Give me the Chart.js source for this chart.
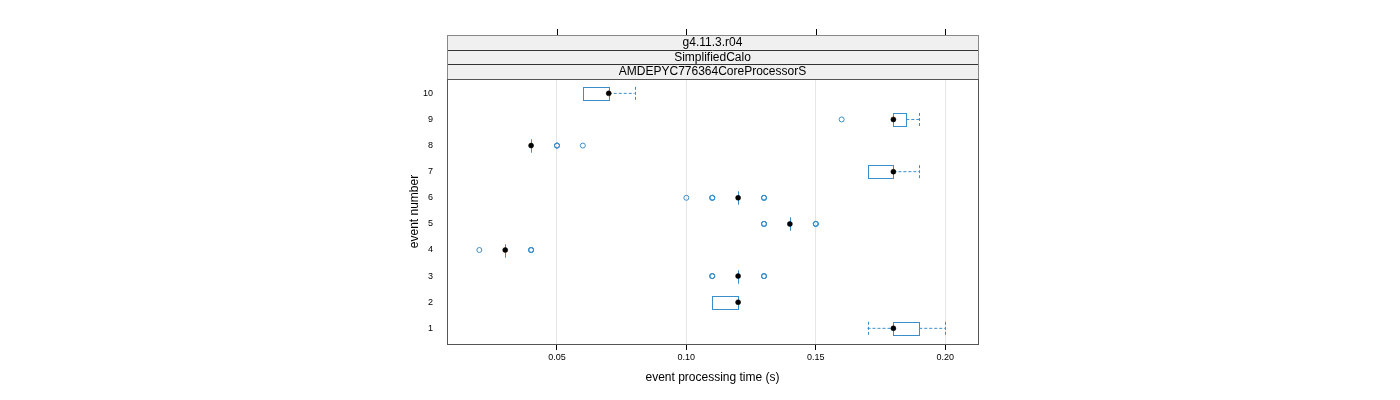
<!DOCTYPE html>
<html>
<head>
<meta charset="utf-8">
<script src="https://cdn.jsdelivr.net/npm/chart.js@4"></script>
<style>
  body { margin: 0; background: #fff; }
  canvas { display: block; }
</style>
</head>
<body>
<canvas id="bw" width="1400" height="400"></canvas>
<script>
// event numbers (y categories) and x tick values
const events = [1, 2, 3, 4, 5, 6, 7, 8, 9, 10];
const xTicks = [0.05, 0.10, 0.15, 0.20];
const strips = ["g4.11.3.r04", "SimplifiedCalo", "AMDEPYC776364CoreProcessorS"];

// box-and-whisker stats per event (seconds)
const lowWhisker = [0.17, 0.11, 0.12, 0.03, 0.14, 0.12, 0.17, 0.04, 0.18, 0.06];
const q1         = [0.18, 0.11, 0.12, 0.03, 0.14, 0.12, 0.17, 0.04, 0.18, 0.06];
const median     = [0.18, 0.12, 0.12, 0.03, 0.14, 0.12, 0.18, 0.04, 0.18, 0.07];
const q3         = [0.19, 0.12, 0.12, 0.03, 0.14, 0.12, 0.18, 0.04, 0.185, 0.07];
const highWhisker= [0.20, 0.12, 0.12, 0.03, 0.14, 0.12, 0.19, 0.04, 0.19, 0.08];

// outliers per event (repeated values = overlapping points)
const outliers = [
    [],
    [],
    [0.11, 0.11, 0.11, 0.13, 0.13, 0.13],
    [0.02, 0.04, 0.04, 0.04],
    [0.13, 0.13, 0.13, 0.15, 0.15, 0.15],
    [0.10, 0.11, 0.11, 0.11, 0.13, 0.13, 0.13],
    [],
    [0.05, 0.05, 0.05, 0.06],
    [0.16],
    []
];

const BLUE = "#3a8fcb";
const FRAME = "#555555";

const outlierPoints = [];
events.forEach((ev, i) => outliers[i].forEach(v => outlierPoints.push({ x: v, y: ev })));
const medianPoints = events.map((ev, i) => ({ x: median[i], y: ev }));

// boxes, whiskers, strips, frame and top ticks
const latticePlugin = {
    id: "lattice",
    beforeDatasetsDraw(chart) {
        const { ctx, scales: { x, y } } = chart;
        const half = 6.5;
        ctx.save();
        ctx.strokeStyle = BLUE;
        ctx.lineWidth = 1;
        events.forEach((ev, i) => {
            const yc = y.getPixelForValue(ev);
            const xl = x.getPixelForValue(q1[i]);
            const xr = x.getPixelForValue(q3[i]);
            const wl = x.getPixelForValue(lowWhisker[i]);
            const wh = x.getPixelForValue(highWhisker[i]);
            ctx.setLineDash([]);
            ctx.strokeRect(Math.round(xl) + 0.5, Math.round(yc - half) + 0.5, Math.round(xr) - Math.round(xl), 2 * half);
            ctx.setLineDash([3, 2]);
            ctx.beginPath();
            if (wl < xl - 0.5) {
                ctx.moveTo(wl, yc); ctx.lineTo(xl, yc);
                ctx.moveTo(Math.round(wl) + 0.5, yc - half); ctx.lineTo(Math.round(wl) + 0.5, yc + half);
            }
            if (wh > xr + 0.5) {
                ctx.moveTo(xr, yc); ctx.lineTo(wh, yc);
                ctx.moveTo(Math.round(wh) + 0.5, yc - half); ctx.lineTo(Math.round(wh) + 0.5, yc + half);
            }
            ctx.stroke();
        });
        ctx.restore();
    },
    afterDraw(chart) {
        const { ctx, chartArea: a, scales: { x } } = chart;
        const h = (a.top - 35) / strips.length;
        ctx.save();
        // strips
        strips.forEach((s, k) => {
            const top = 35 + k * h;
            ctx.fillStyle = "#f0f0f0";
            ctx.fillRect(a.left, top, a.right - a.left, h);
            ctx.strokeStyle = k === 0 ? "#888" : "#333";
            ctx.lineWidth = 1;
            ctx.beginPath();
            ctx.moveTo(a.left, Math.round(top) + 0.5);
            ctx.lineTo(a.right, Math.round(top) + 0.5);
            ctx.stroke();
            ctx.fillStyle = "#000";
            ctx.font = "12px 'Liberation Sans', Arial, sans-serif";
            ctx.textAlign = "center";
            ctx.textBaseline = "middle";
            ctx.fillText(s, (a.left + a.right) / 2, top + h / 2 + 0.5);
        });
        ctx.strokeStyle = "#888";
        ctx.strokeRect(Math.round(a.left) + 0.5, 35.5, Math.round(a.right - a.left), Math.round(a.top - 35));
        // panel frame
        ctx.strokeStyle = FRAME;
        ctx.strokeRect(Math.round(a.left) + 0.5, Math.round(a.top) + 0.5, Math.round(a.right - a.left), Math.round(a.bottom - a.top));
        // top ticks above strips
        ctx.strokeStyle = "#000";
        ctx.beginPath();
        xTicks.forEach(v => {
            const px = Math.round(x.getPixelForValue(v)) + 0.5;
            ctx.moveTo(px, 29); ctx.lineTo(px, 35);
        });
        ctx.stroke();
        // axis titles
        ctx.fillStyle = "#000";
        ctx.font = "12px 'Liberation Sans', Arial, sans-serif";
        ctx.textAlign = "center";
        ctx.textBaseline = "middle";
        ctx.fillText("event processing time (s)", (a.left + a.right) / 2, 378);
        ctx.translate(415, (a.top + a.bottom) / 2);
        ctx.rotate(-Math.PI / 2);
        ctx.fillText("event number", 0, 0);
        ctx.restore();
    }
};

Chart.defaults.font.family = "'Liberation Sans', Arial, sans-serif";
Chart.defaults.color = "#000";

new Chart(document.getElementById("bw"), {
    type: "scatter",
    data: {
        datasets: [
            {
                label: "outliers",
                data: outlierPoints,
                pointStyle: "circle",
                pointRadius: 2.5,
                backgroundColor: "rgba(0,0,0,0)",
                borderColor: BLUE,
                borderWidth: 1
            },
            {
                label: "median",
                data: medianPoints,
                pointStyle: "circle",
                pointRadius: 2.5,
                backgroundColor: "#000",
                borderColor: "#000",
                borderWidth: 0.5
            }
        ]
    },
    options: {
        responsive: false,
        animation: false,
        devicePixelRatio: 1,
        layout: { padding: { left: 417, right: 422, top: 79, bottom: 36 } },
        plugins: { legend: { display: false }, tooltip: { enabled: false } },
        scales: {
            x: {
                type: "linear",
                min: 0.0075,
                max: 0.2127,
                afterBuildTicks: s => { s.ticks = xTicks.map(v => ({ value: v })); },
                afterFit: s => { s.height = 20; },
                ticks: { font: { size: 9 }, padding: 2, maxRotation: 0, callback: v => v.toFixed(2) },
                grid: { color: "#e6e6e6", tickColor: "#000", tickLength: 6, lineWidth: 1 },
                border: { display: false }
            },
            y: {
                type: "linear",
                min: 0.4,
                max: 10.55,
                afterBuildTicks: s => { s.ticks = events.map(v => ({ value: v })); },
                afterFit: s => { s.width = 30; },
                ticks: { font: { size: 9 }, padding: 6, callback: v => String(v) },
                grid: { display: false },
                border: { display: false }
            }
        }
    },
    plugins: [latticePlugin]
});
</script>
</body>
</html>
